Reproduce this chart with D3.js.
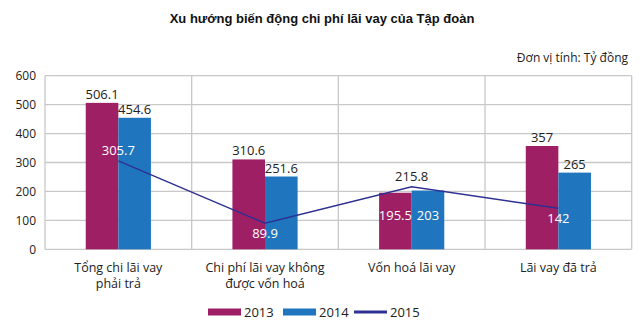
<!DOCTYPE html>
<html><head><meta charset="utf-8">
<script src="https://cdn.jsdelivr.net/npm/d3@7"></script>
<style>body{margin:0;background:#fff}svg{display:block}</style>
</head><body>
<script>
const categories = [["Tổng chi lãi vay","phải trả"],["Chi phí lãi vay không","được vốn hoá"],["Vốn hoá lãi vay"],["Lãi vay đã trả"]];
const years = ["2013","2014","2015"];
const values2013 = [506.1, 310.6, 195.5, 357];
const values2014 = [454.6, 251.6, 203, 265];
const values2015 = [305.7, 89.9, 215.8, 142];
const yTicks = [0,100,200,300,400,500,600];
// label placement per category: "above" or "inside"
const barLabelPos = ["above","above","inside","above"];
const lineLabelPos = ["above","below","above","below"];
const lineLabelInside = [true,true,false,true];

const W=644,H=325;
const m={l:45,r:12.3,t:75.7,b:75.7};
const colors={"2013":"#9E1F63","2014":"#1F75BE","2015":"#2E3192"};
const font="'Open Sans', sans-serif";

const svg=d3.select("body").append("svg").attr("width",W).attr("height",H);
const x=d3.scaleBand().domain(d3.range(categories.length)).range([m.l,W-m.r]);
const y=d3.scaleLinear().domain([0,600]).range([H-m.b,m.t]);
const xs=d3.scaleBand().domain(["2013","2014"]).range([0,x.bandwidth()]).paddingInner(0).paddingOuter(1.25);

svg.append("text").attr("x",W/2).attr("y",23).attr("text-anchor","middle")
  .attr("font-family","'Liberation Sans', Arial, sans-serif").attr("font-weight","bold").attr("font-size",13)
  .attr("fill","#111").text("Xu hướng biến động chi phí lãi vay của Tập đoàn");
svg.append("text").attr("x",628).attr("y",62).attr("text-anchor","end")
  .attr("font-family",font).attr("font-size",12).attr("fill","#222").text("Đơn vị tính: Tỷ đồng");

// grid
const g=svg.append("g");
g.selectAll("line.h").data(yTicks).join("line").attr("x1",m.l).attr("x2",W-m.r)
  .attr("y1",d=>y(d)).attr("y2",d=>y(d)).attr("stroke","#c8c8c8").attr("stroke-width",1.3);
g.selectAll("line.v").data(d3.range(categories.length+1)).join("line")
  .attr("x1",i=>m.l+i*x.bandwidth()).attr("x2",i=>m.l+i*x.bandwidth())
  .attr("y1",m.t).attr("y2",H-m.b).attr("stroke","#c8c8c8").attr("stroke-width",1.3);

// y axis
const ya=d3.axisLeft(y).tickValues(yTicks).tickSize(0).tickPadding(9);
svg.append("g").attr("transform",`translate(${m.l},0)`).call(ya)
  .call(s=>s.select(".domain").remove())
  .call(s=>s.selectAll("text").attr("font-family",font).attr("font-size",12).attr("fill","#222"));

// bars
const series=[{k:"2013",v:values2013},{k:"2014",v:values2014}];
series.forEach(s=>{
  svg.append("g").selectAll("rect").data(s.v).join("rect")
    .attr("x",(d,i)=>x(i)+xs(s.k)).attr("width",xs.bandwidth())
    .attr("y",d=>y(d)).attr("height",d=>y(0)-y(d)).attr("fill",colors[s.k]);
  svg.append("g").selectAll("text").data(s.v).join("text")
    .attr("x",(d,i)=>x(i)+xs(s.k)+xs.bandwidth()/2)
    .attr("y",(d,i)=>barLabelPos[i]==="above"?y(d)-4:y(0)-29)
    .attr("text-anchor","middle").attr("font-family",font).attr("font-size",13)
    .attr("fill",(d,i)=>barLabelPos[i]==="above"?"#222":"#fff").text(d=>d);
});

// line
const cx=i=>x(i)+x.bandwidth()/2;
svg.append("path").datum(values2015).attr("fill","none").attr("stroke",colors["2015"]).attr("stroke-width",1.5)
  .attr("d",d3.line().x((d,i)=>cx(i)).y(d=>y(d)));
svg.append("g").selectAll("text").data(values2015).join("text")
  .attr("x",(d,i)=>cx(i)).attr("y",(d,i)=>lineLabelPos[i]==="above"?y(d)-6:y(d)+15)
  .attr("text-anchor","middle").attr("font-family",font).attr("font-size",13)
  .attr("fill",(d,i)=>lineLabelInside[i]?"#fff":"#222").text(d=>d);

// category labels
categories.forEach((c,i)=>{
  c.forEach((ln,j)=>svg.append("text").attr("text-anchor","middle").attr("font-family",font)
    .attr("font-size",12.5).attr("fill","#222").attr("x",cx(i)).attr("y",272+j*16).text(ln));
});

// legend
const lg=[{k:"2013",x:208,type:"rect"},{k:"2014",x:283,type:"rect"},{k:"2015",x:354,type:"line"}];
lg.forEach(l=>{
  if(l.type==="rect") svg.append("rect").attr("x",l.x).attr("y",308.5).attr("width",33).attr("height",7).attr("fill",colors[l.k]);
  else svg.append("line").attr("x1",l.x).attr("x2",l.x+33).attr("y1",312).attr("y2",312).attr("stroke",colors[l.k]).attr("stroke-width",3);
  svg.append("text").attr("x",l.x+36).attr("y",316.5).attr("font-family",font).attr("font-size",13).attr("fill","#222").text(l.k);
});
</script>
</body></html>
